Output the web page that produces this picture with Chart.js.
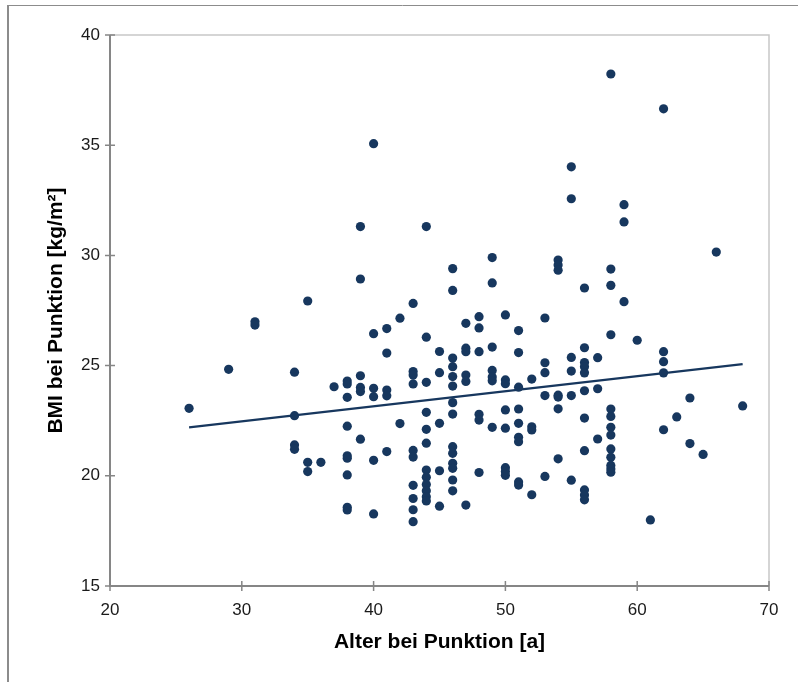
<!DOCTYPE html>
<html>
<head>
<meta charset="utf-8">
<script src="https://cdn.jsdelivr.net/npm/chart.js@4/dist/chart.umd.min.js"></script>
<style>
  html, body { margin: 0; padding: 0; background: #fff; }
  #wrap { width: 798px; height: 682px; position: relative; }
</style>
</head>
<body>
<div id="wrap"><canvas id="bmiChart" width="798" height="682"></canvas></div>
<script>
// Alter (Jahre) und die jeweils gemessenen BMI-Werte
const alterWerte = [26, 29, 31, 34, 35, 36, 37, 38, 39, 40, 41, 42, 43, 44, 45, 46, 47, 48, 49, 50,
                    51, 52, 53, 54, 55, 56, 57, 58, 59, 60, 61, 62, 63, 64, 65, 66, 68];
const bmiJeAlter = [
    [23.06],
    [24.83],
    [26.99, 26.84],
    [24.70, 22.73, 21.40, 21.20],
    [27.93, 20.61, 20.19],
    [20.61],
    [24.04],
    [24.30, 24.17, 23.56, 22.25, 20.91, 20.80, 20.04, 18.57, 18.45],
    [31.31, 28.93, 24.54, 24.01, 23.82, 21.66],
    [35.07, 26.45, 23.97, 23.59, 20.70, 18.27],
    [26.68, 25.57, 23.89, 23.63, 21.10],
    [27.15, 22.37],
    [27.82, 24.73, 24.57, 24.17, 21.15, 20.85, 19.57, 18.97, 18.46, 17.92],
    [31.31, 26.29, 24.24, 22.88, 22.11, 21.48, 20.26, 19.93, 19.61, 19.32, 19.05, 18.86],
    [25.64, 24.68, 22.38, 20.23, 18.62],
    [29.40, 28.41, 25.34, 24.95, 24.50, 24.07, 23.32, 22.80, 21.32, 21.02, 20.57, 20.34, 19.81, 19.32],
    [26.92, 25.79, 25.63, 24.57, 24.28, 18.67],
    [27.22, 26.71, 25.63, 22.79, 22.53, 20.15],
    [29.90, 28.75, 25.84, 24.78, 24.48, 24.31, 22.20],
    [27.30, 24.35, 24.18, 22.99, 22.16, 20.37, 20.20, 20.02],
    [26.59, 25.59, 24.02, 23.03, 22.38, 21.75, 21.55, 19.72, 19.58],
    [24.39, 22.22, 22.08, 19.14],
    [27.16, 25.13, 24.68, 23.64, 19.97],
    [29.79, 29.56, 29.33, 23.66, 23.57, 23.04, 20.77],
    [34.02, 32.57, 25.37, 24.75, 23.64, 19.80],
    [28.52, 25.81, 25.14, 24.95, 24.67, 23.86, 22.62, 21.14, 19.36, 19.13, 18.91],
    [25.36, 23.95, 21.67],
    [38.23, 29.38, 28.64, 26.40, 23.03, 22.69, 22.20, 21.85, 21.22, 20.84, 20.47, 20.31, 20.16],
    [32.30, 31.52, 27.90],
    [26.15],
    [18.00],
    [36.65, 25.63, 25.18, 24.67, 22.09],
    [22.67],
    [23.53, 21.46],
    [20.97],
    [30.15],
    [23.17]
];

const trendAlter = [26, 68];
const trendBmi = [22.20, 25.07];

// Achsen
const xTicks = [20, 30, 40, 50, 60, 70];
const yTicks = [15, 20, 25, 30, 35, 40];

const FARBE = '#17375e';
const ACHSE = '#868686';

// Punkte aufbauen
const punkte = [];
alterWerte.forEach((a, i) => {
    bmiJeAlter[i].forEach(b => punkte.push({x: a, y: b}));
});
const trendPunkte = trendAlter.map((a, i) => ({x: a, y: trendBmi[i]}));

// Rahmen, Achsenlinien und Kreuz-Teilstriche im Excel-Stil
const rahmenPlugin = {
    id: 'rahmen',
    beforeDatasetsDraw(chart) {
        const {ctx, chartArea: ca, scales} = chart;
        ctx.save();
        // äußerer Diagrammrahmen
        ctx.strokeStyle = '#8c8c8c';
        ctx.lineWidth = 2;
        ctx.beginPath();
        ctx.moveTo(8, 682);
        ctx.lineTo(8, 6);
        ctx.stroke();
        ctx.lineWidth = 1;
        ctx.beginPath();
        ctx.moveTo(7, 5.5);
        ctx.lineTo(798, 5.5);
        ctx.stroke();

        // Zeichenfläche oben/rechts
        ctx.strokeStyle = '#c8c8c8';
        ctx.lineWidth = 1.5;
        ctx.beginPath();
        ctx.moveTo(ca.left, ca.top);
        ctx.lineTo(ca.right, ca.top);
        ctx.lineTo(ca.right, ca.bottom);
        ctx.stroke();

        // Achsen
        ctx.strokeStyle = ACHSE;
        ctx.lineWidth = 2;
        ctx.beginPath();
        ctx.moveTo(ca.left, ca.top);
        ctx.lineTo(ca.left, ca.bottom);
        ctx.lineTo(ca.right, ca.bottom);
        ctx.stroke();

        ctx.lineWidth = 1.5;
        ctx.beginPath();
        yTicks.forEach(v => {
            const y = scales.y.getPixelForValue(v);
            ctx.moveTo(ca.left - 5, y);
            ctx.lineTo(ca.left + 5, y);
        });
        xTicks.forEach(v => {
            const x = scales.x.getPixelForValue(v);
            ctx.moveTo(x, ca.bottom - 5);
            ctx.lineTo(x, ca.bottom + 5);
        });
        ctx.stroke();
        ctx.restore();
    }
};

const ctx = document.getElementById('bmiChart').getContext('2d');
new Chart(ctx, {
    type: 'scatter',
    data: {
        datasets: [
            {
                label: 'BMI',
                data: punkte,
                pointRadius: 4.6,
                pointHoverRadius: 4.6,
                backgroundColor: FARBE,
                borderWidth: 0
            },
            {
                label: 'Trend',
                data: trendPunkte,
                showLine: true,
                pointRadius: 0,
                borderColor: FARBE,
                borderWidth: 2.2,
                fill: false
            }
        ]
    },
    options: {
        responsive: false,
        animation: false,
        events: [],
        layout: { padding: { top: 35, right: 29, left: 0, bottom: 0 } },
        plugins: {
            legend: { display: false },
            tooltip: { enabled: false }
        },
        scales: {
            x: {
                type: 'linear',
                min: 20,
                max: 70,
                afterFit(scale) { scale.height = 96; },
                afterBuildTicks(scale) { scale.ticks = xTicks.map(v => ({value: v})); },
                grid: { display: false, drawTicks: false },
                border: { display: false },
                ticks: {
                    padding: 14,
                    color: '#1a1a1a',
                    font: { family: 'Liberation Sans, Arial, sans-serif', size: 17 }
                },
                title: {
                    display: true,
                    text: 'Alter bei Punktion [a]',
                    color: '#000',
                    padding: { top: 0, bottom: 27 },
                    font: { family: 'Liberation Sans, Arial, sans-serif', size: 21, weight: 'bold' }
                }
            },
            y: {
                type: 'linear',
                min: 15,
                max: 40,
                afterFit(scale) { scale.width = 110; },
                afterBuildTicks(scale) { scale.ticks = yTicks.map(v => ({value: v})); },
                grid: { display: false, drawTicks: false },
                border: { display: false },
                ticks: {
                    padding: 10,
                    color: '#1a1a1a',
                    font: { family: 'Liberation Sans, Arial, sans-serif', size: 17 }
                },
                title: {
                    display: true,
                    text: 'BMI bei Punktion [kg/m²]',
                    color: '#000',
                    padding: { top: 44, bottom: 0 },
                    font: { family: 'Liberation Sans, Arial, sans-serif', size: 21, weight: 'bold' }
                }
            }
        }
    },
    plugins: [rahmenPlugin]
});
</script>
</body>
</html>
